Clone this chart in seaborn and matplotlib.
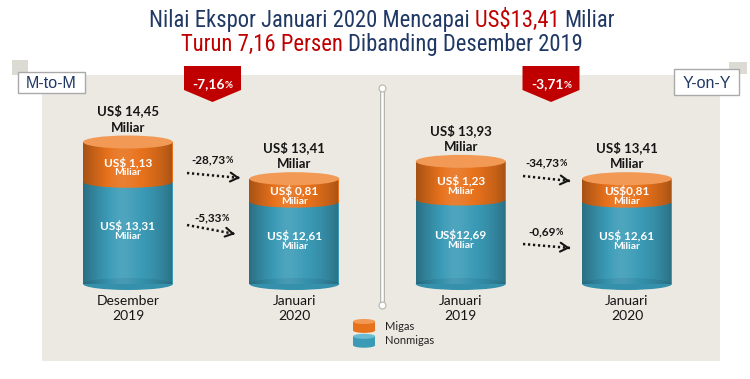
import numpy as np
import pandas as pd
import matplotlib
matplotlib.use("Agg")
import matplotlib.pyplot as plt
import seaborn as sns
from matplotlib import font_manager
from matplotlib.patches import Ellipse, Rectangle, Polygon, Patch, FancyArrowPatch
from matplotlib.lines import Line2D
from matplotlib.legend_handler import HandlerBase

# --- data (read from the infographic) ---
bar_ids = ["Des 2019 (M-to-M)", "Jan 2020 (M-to-M)", "Jan 2019 (Y-on-Y)", "Jan 2020 (Y-on-Y)"]
periods = ["Desember\n2019", "Januari\n2020", "Januari\n2019", "Januari\n2020"]
total = [14.45, 13.41, 13.93, 13.41]
migas = [1.13, 0.81, 1.23, 0.81]
nonmigas = [13.31, 12.61, 12.69, 12.61]
total_labels = ["US$ 14,45", "US$ 13,41", "US$ 13,93", "US$ 13,41"]
migas_labels = ["US$ 1,13", "US$ 0,81", "US$ 1,23", "US$0,81"]
nonmigas_labels = ["US$ 13,31", "US$ 12,61", "US$12,69", "US$ 12,61"]
panels = ["M-to-M", "Y-on-Y"]
change_total = ["-7,16", "-3,71"]
change_migas = ["-28,73", "-34,73"]
change_nonmigas = ["-5,33", "-0,69"]

# colours
NAVY = "#1f3864"
RED = "#c00000"
ORANGE = "#e8721c"
ORANGE_TOP = "#f29a55"
BLUE = "#3b9bb7"
BLUE_RIM = "#3590ab"
PANEL = "#ebe9e1"
DARK = "#151515"

sns.set_theme(style="white")
names = {f.name for f in font_manager.fontManager.ttflist}


def pick(*cands):
    for c in cands:
        if c in names:
            return c
    return "DejaVu Sans"


BODY = pick("Lato", "Open Sans", "Noto Sans")
NARROW = pick("Liberation Sans Narrow", "Roboto Condensed", "DejaVu Sans Condensed", "Liberation Sans")
ARIAL = pick("Liberation Sans", "DejaVu Sans")
plt.rcParams["font.family"] = [BODY, "DejaVu Sans"]

W, H = 750, 379
fig = plt.figure(figsize=(W / 100, H / 100), dpi=100)
fig.patch.set_facecolor("white")
renderer = fig.canvas.get_renderer()


def fx(x):
    return x / W


def fy(y):
    return 1 - y / H


def fig_rect(x0, y0, x1, y1, **kw):
    r = Rectangle((fx(x0), fy(y1)), (x1 - x0) / W, (y1 - y0) / H,
                  transform=fig.transFigure, **kw)
    fig.add_artist(r)
    return r


def advance(s, **kw):
    t1 = fig.text(0, 0, "|" + s + "|", **kw)
    t2 = fig.text(0, 0, "||", **kw)
    w = t1.get_window_extent(renderer).width - t2.get_window_extent(renderer).width
    t1.remove()
    t2.remove()
    return w


def draw_runs(cx, base_y, runs, **common):
    widths = [advance(s, **{**common, **kw}) for s, kw in runs]
    x = cx - sum(widths) / 2
    for (s, kw), w in zip(runs, widths):
        fig.text(fx(x), fy(base_y), s, ha="left", va="baseline", **{**common, **kw})
        x += w


# background panel + decorations
fig_rect(42, 75, 720, 361, facecolor=PANEL, edgecolor="none", zorder=0)
fig_rect(12, 60, 28, 75, facecolor="#dcdbd3", edgecolor="none", zorder=0.6)
fig_rect(729, 62, 747, 74, facecolor="#dcdbd3", edgecolor="none", zorder=0.6)

# --- cylinders as stacked seaborn bars on a power-4 value scale ---
POW = 4


def fwd(y):
    return np.sign(y) * np.abs(y) ** POW


def inv(y):
    return np.sign(y) * np.abs(y) ** (1 / POW)


BAR_W = 0.54
unit = 166.35
x_first = 128
y_base = 284
ymax = 16
ax_h = 142 / (fwd(max(total)) / fwd(ymax))
ax = fig.add_axes([fx(x_first - 0.5 * unit), 1 - y_base / H, 4 * unit / W, ax_h / H])
ax.set_zorder(2)
ax.patch.set_alpha(0)

df = pd.DataFrame({"bar": bar_ids, "total": total, "nonmigas": nonmigas})
sns.barplot(data=df, x="bar", y="total", color=ORANGE, saturation=1, width=BAR_W,
            linewidth=0, ax=ax, zorder=2)
sns.barplot(data=df, x="bar", y="nonmigas", color=BLUE, saturation=1, width=BAR_W,
            linewidth=0, ax=ax, zorder=2)
column_patches = list(ax.patches[:4])

ax.set_yscale("function", functions=(fwd, inv))
ax.set_xlim(-0.5, 3.5)
ax.set_ylim(0, ymax)
for s in ax.spines.values():
    s.set_visible(False)
ax.set_yticks([])
ax.set_xlabel("")
ax.set_ylabel("")
ax.set_xticks(range(len(periods)))
ax.set_xticklabels(periods, fontsize=10, color=DARK, linespacing=1.25)
ax.tick_params(axis="x", length=0, pad=8)

ax_box = ax.get_window_extent()
ELL_H = 12


def add_ellipse(xc, v, color, z, h_px=ELL_H):
    xa, ya = ax.transAxes.inverted().transform(ax.transData.transform((xc, v)))
    e = Ellipse((xa, ya), width=BAR_W / 4, height=h_px / ax_box.height,
                transform=ax.transAxes, facecolor=color, edgecolor="none",
                zorder=z, clip_on=False)
    ax.add_patch(e)


# horizontal shading of the cylinder body
u = np.linspace(0, 1, 90)
shade = 0.28 * np.abs(2 * u - 1) ** 2.2
light = 0.10 * np.exp(-((u - 0.42) / 0.18) ** 2)
val = light - shade
grad = np.zeros((1, u.size, 4))
grad[0, :, :3] = (val > 0)[:, None] * 1.0
grad[0, :, 3] = np.abs(val)

for i, p in enumerate(column_patches):
    add_ellipse(i, 0, BLUE_RIM, 2.5)
    add_ellipse(i, nonmigas[i], ORANGE, 2.5)
    im = ax.imshow(grad, extent=(p.get_x(), p.get_x() + p.get_width(), 0, p.get_height()),
                   aspect="auto", zorder=3, interpolation="bilinear")
    im.set_clip_path(p)
    add_ellipse(i, total[i], ORANGE_TOP, 4, h_px=13)

ax.set_xlim(-0.5, 3.5)
ax.set_ylim(0, ymax)
ax.set_autoscale_on(False)


def dpx(i, v):
    x, y = ax.transData.transform((i, v))
    return x, H - y


for i in range(len(bar_ids)):
    xp, yt = dpx(i, total[i])
    _, yb = dpx(i, nonmigas[i])
    _, y0 = dpx(i, 0)
    fig.text(fx(xp), fy(yt - 31), total_labels[i], ha="center", va="center",
             fontsize=9.5, weight="bold", color=DARK, zorder=6)
    fig.text(fx(xp), fy(yt - 14.5), "Miliar", ha="center", va="center",
             fontsize=9.5, weight="bold", color=DARK, zorder=6)
    mid_o = (yt + yb) / 2 + ELL_H / 2
    fig.text(fx(xp), fy(mid_o - 5), migas_labels[i], ha="center", va="center",
             fontsize=8.5, weight="bold", color="white", zorder=6)
    fig.text(fx(xp), fy(mid_o + 5), "Miliar", ha="center", va="center",
             fontsize=7.5, weight="bold", color="white", zorder=6)
    mid_b = (yb + y0) / 2 + ELL_H / 2
    fig.text(fx(xp), fy(mid_b - 13), nonmigas_labels[i], ha="center", va="center",
             fontsize=8.5, weight="bold", color="white", zorder=6)
    fig.text(fx(xp), fy(mid_b - 2), "Miliar", ha="center", va="center",
             fontsize=7.5, weight="bold", color="white", zorder=6)

# --- change arrows between cylinders ---
arrow_paths = [((187, 173), (240, 178)), ((187, 225), (235, 234)),
               ((523, 176), (570, 181)), ((523, 244), (570, 248))]
arrow_texts = [(change_migas[0], 212, 163), (change_nonmigas[0], 212, 221),
               (change_migas[1], 546, 166), (change_nonmigas[1], 546, 235)]

for p0, p1 in arrow_paths:
    fig.add_artist(Line2D([fx(p0[0]), fx(p1[0])], [fy(p0[1]), fy(p1[1])],
                          transform=fig.transFigure, color=DARK, lw=1.8,
                          linestyle=(0, (0.9, 1.1)), zorder=5))
    d = np.subtract(p1, p0) / np.hypot(*np.subtract(p1, p0))
    a0 = np.subtract(p1, 5 * d)
    fig.add_artist(FancyArrowPatch((fx(a0[0]), fy(a0[1])), (fx(p1[0]), fy(p1[1])),
                                   transform=fig.transFigure,
                                   arrowstyle="->,head_length=0.55,head_width=0.32",
                                   mutation_scale=10, color=DARK, lw=1.5, zorder=5))

for s, x, y in arrow_texts:
    draw_runs(x, y, [(s, dict(fontsize=8.5)), ("%", dict(fontsize=6.5))],
              weight="bold", color=DARK, zorder=6)

# --- red badges with total change ---
for cx, s in zip([212.5, 551], change_total):
    hw = 28.5
    pts = [(cx - hw, 66), (cx + hw, 66), (cx + hw, 90), (cx, 102), (cx - hw, 90)]
    fig.add_artist(Polygon([(fx(x), fy(y)) for x, y in pts], closed=True,
                           transform=fig.transFigure, facecolor=RED,
                           edgecolor="none", zorder=5))
    draw_runs(cx, 88, [(s, dict(fontsize=10)), ("%", dict(fontsize=7))],
              weight="bold", color="white", zorder=6)

# --- panel tags ---
for (x0, y0, x1, y1), s in zip([(18, 72, 85, 93), (674, 69, 739, 95)], panels):
    fig_rect(x0, y0, x1, y1, facecolor="white", edgecolor="#a9a9a9", lw=1, zorder=5)
    fig.text(fx((x0 + x1) / 2), fy((y0 + y1) / 2 + 1), s, ha="center", va="center",
             fontsize=11.5, color=NAVY, family=ARIAL, zorder=6)

# --- divider ---
div_x, div_y = [fx(382)] * 2, [fy(88), fy(305)]
fig.add_artist(Line2D(div_x, div_y, transform=fig.transFigure, color="#b5b5ad",
                      lw=3.6, solid_capstyle="round", zorder=1))
fig.add_artist(Line2D(div_x, div_y, transform=fig.transFigure, color="white",
                      lw=1.8, solid_capstyle="round", marker="o", markersize=5,
                      markerfacecolor="white", markeredgecolor="#b5b5ad",
                      markeredgewidth=0.8, zorder=1.1))


# --- legend with small cylinder handles ---
class CylinderHandler(HandlerBase):
    caps = {ORANGE: ORANGE_TOP, BLUE: "#6bbcd2"}

    def create_artists(self, legend, orig_handle, xdescent, ydescent, width,
                       height, fontsize, trans):
        color = matplotlib.colors.to_hex(orig_handle.get_facecolor())
        eh = height * 0.36
        x0, y0 = -xdescent, -ydescent
        body = Rectangle((x0, y0 + eh / 2), width, height - eh, facecolor=color,
                         edgecolor="none", transform=trans)
        bottom = Ellipse((x0 + width / 2, y0 + eh / 2), width, eh, facecolor=color,
                         edgecolor="none", transform=trans)
        cap = Ellipse((x0 + width / 2, y0 + height - eh / 2), width, eh,
                      facecolor=self.caps.get(color, color), edgecolor="none",
                      transform=trans)
        return [bottom, body, cap]


handles = [Patch(facecolor=ORANGE, label="Migas"), Patch(facecolor=BLUE, label="Nonmigas")]
fig.legend(handles=handles, handler_map={Patch: CylinderHandler()},
           loc="upper left", bbox_to_anchor=(fx(353), fy(319)),
           bbox_transform=fig.transFigure, frameon=False, fontsize=8,
           handlelength=2.0, handleheight=1.55, handletextpad=0.9,
           labelspacing=0.08, borderpad=0, borderaxespad=0, labelcolor="#222222")

# --- two-colour title ---
title1 = [("Nilai Ekspor Januari 2020 Mencapai ", NAVY), ("US$13,41 ", RED), ("Miliar", NAVY)]
title2 = [("Turun 7,16 Persen ", RED), ("Dibanding Desember 2019", NAVY)]
w10 = sum(advance(s, fontsize=10, family=NARROW) for s, _ in title1)
tsize = 10 * 465 / w10
draw_runs(382, 27, [(s, dict(color=c)) for s, c in title1], fontsize=tsize, family=NARROW)
draw_runs(382, 51, [(s, dict(color=c)) for s, c in title2], fontsize=tsize, family=NARROW)

fig.savefig("out.png", dpi=100)
